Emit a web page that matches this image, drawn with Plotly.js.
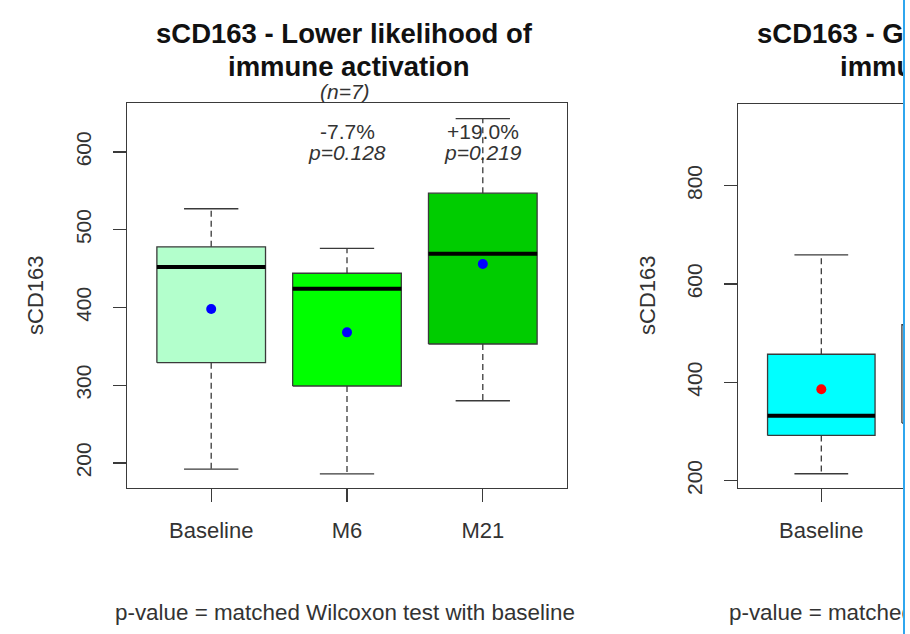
<!DOCTYPE html>
<html><head><meta charset="utf-8">
<script src="https://cdn.plot.ly/plotly-3.0.1.min.js"></script>
<style>
html,body{margin:0;padding:0;background:#fff;overflow:hidden}
#wrap{width:903px;height:634px;border-right:2px solid #2fa6ee;}
#chart{width:903px;height:634px}
</style></head>
<body><div id="wrap"><div id="chart"></div></div>
<script>
// ---- data ----
const categories   = ["Baseline", "M6", "M21"];
const leftLower    = [192, 186, 280];
const leftQ1       = [329, 299, 353];
const leftMedian   = [452, 424, 469];
const leftQ3       = [478, 444, 547];
const leftUpper    = [527, 476, 643];
const leftMean     = [398, 368, 456];
const leftFill     = ["#B3FFCC", "#00FF00", "#00CC00"];
const changeText   = ["", "-7.7%", "+19.0%"];
const pText        = ["", "p=0.128", "p=0.219"];

const rightCategories = ["Baseline", "M6"];
const rightLower   = [214, null];
const rightQ1      = [292, 317];
const rightMedian  = [332, null];
const rightQ3      = [457, 517];
const rightUpper   = [659, null];
const rightMean    = [386, null];
const rightFill    = ["#00FFFF", "#FFFFFF"];

const leftTicks  = [200, 300, 400, 500, 600];
const rightTicks = [200, 400, 600, 800];

// ---- layout helpers ----
const W = 903, H = 634;
const px = v => v / W;
const py = v => 1 - v / H;
const FONT = "Liberation Sans, Arial, sans-serif";
const LINE = "#3a3a3a";

function panelTraces(xa, ya, cats, lower, q1, med, q3, upper, mean, fill, meanColor) {
  const traces = [];
  const hw = 0.4, cw = 0.2;
  cats.forEach((c, i) => {
    const x = i + 1;
    traces.push({
      type: "scatter", mode: "lines", xaxis: xa, yaxis: ya,
      x: [x - hw, x + hw, x + hw, x - hw, x - hw],
      y: [q1[i], q1[i], q3[i], q3[i], q1[i]],
      fill: "toself", fillcolor: fill[i],
      line: {color: LINE, width: 1.3}, showlegend: false, hoverinfo: "skip"
    });
  });
  const wx = [], wy = [], cx = [], cy = [], mx = [], my = [];
  cats.forEach((c, i) => {
    const x = i + 1;
    if (upper[i] != null) { wx.push(x, x, null); wy.push(q3[i], upper[i], null);
                            cx.push(x - cw, x + cw, null); cy.push(upper[i], upper[i], null); }
    if (lower[i] != null) { wx.push(x, x, null); wy.push(q1[i], lower[i], null);
                            cx.push(x - cw, x + cw, null); cy.push(lower[i], lower[i], null); }
    if (med[i] != null)   { mx.push(x - hw, x + hw, null); my.push(med[i], med[i], null); }
  });
  traces.push({type: "scatter", mode: "lines", xaxis: xa, yaxis: ya, x: wx, y: wy,
    line: {color: LINE, width: 1.3, dash: "6px,4px"}, showlegend: false, hoverinfo: "skip"});
  traces.push({type: "scatter", mode: "lines", xaxis: xa, yaxis: ya, x: cx, y: cy,
    line: {color: LINE, width: 1.3}, showlegend: false, hoverinfo: "skip"});
  traces.push({type: "scatter", mode: "lines", xaxis: xa, yaxis: ya, x: mx, y: my,
    line: {color: "#000", width: 4}, showlegend: false, hoverinfo: "skip"});
  const ex = [], ey = [];
  cats.forEach((c, i) => { if (mean[i] != null) { ex.push(i + 1); ey.push(mean[i]); } });
  traces.push({type: "scatter", mode: "markers", xaxis: xa, yaxis: ya, x: ex, y: ey,
    marker: {color: meanColor, size: 10}, cliponaxis: true, showlegend: false, hoverinfo: "skip"});
  return traces;
}

const data = [].concat(
  panelTraces("x", "y", categories, leftLower, leftQ1, leftMedian, leftQ3, leftUpper, leftMean, leftFill, "#0000FF"),
  panelTraces("x2", "y2", rightCategories, rightLower, rightQ1, rightMedian, rightQ3, rightUpper, rightMean, rightFill, "#FF0000")
);

const xBase = {showgrid: false, zeroline: false, showline: true, mirror: true, linecolor: LINE, linewidth: 1.3,
  ticks: "outside", ticklen: 13, tickwidth: 1.3, tickcolor: LINE, ticklabelstandoff: 9,
  tickfont: {family: FONT, size: 22, color: "#333"}, fixedrange: true};
const yBase = {showgrid: false, zeroline: false, showline: true, linecolor: LINE, linewidth: 1.3,
  ticks: "outside", ticklen: 13, tickwidth: 1.3, tickcolor: LINE, tickangle: -90, ticklabelstandoff: 13,
  tickfont: {family: FONT, size: 21, color: "#333"}, fixedrange: true};

const ann = [];
function txt(text, x, y, size, extra) {
  ann.push(Object.assign({text: text, x: px(x), y: py(y), xref: "paper", yref: "paper",
    xanchor: "center", yanchor: "middle", showarrow: false,
    font: {family: FONT, size: size, color: "#333"}}, extra || {}));
}
const titleFont = {family: FONT, size: 27.5, color: "#111"};
txt("<b>sCD163 - Lower likelihood of</b>", 344, 33, 27.5, {font: titleFont});
txt("<b>immune activation</b>", 348, 66, 27.5, {font: titleFont});
txt("<b>sCD163 - Greater likelihood of</b>", 954, 33, 27.5, {font: titleFont});
txt("<b>immune activation</b>", 960, 66, 27.5, {font: titleFont});
txt("<i>(n=7)</i>", 345, 91, 21);
txt("sCD163", 35, 296, 22, {textangle: -90});
txt("sCD163", 647, 296, 22, {textangle: -90});
txt("p-value = matched Wilcoxon test with baseline", 345, 612, 22.4);
txt("p-value = matched Wilcoxon test with baseline", 959, 612, 22.4);
categories.forEach((c, i) => {
  if (changeText[i]) {
    ann.push({text: changeText[i], x: i + 1, y: py(131), xref: "x", yref: "paper", showarrow: false,
      xanchor: "center", yanchor: "middle", font: {family: FONT, size: 21, color: "#333"}});
    ann.push({text: "<i>" + pText[i] + "</i>", x: i + 1, y: py(152), xref: "x", yref: "paper", showarrow: false,
      xanchor: "center", yanchor: "middle", font: {family: FONT, size: 21, color: "#333"}});
  }
});

const layout = {
  width: W, height: H, margin: {l: 0, r: 0, t: 0, b: 0},
  paper_bgcolor: "#fff", plot_bgcolor: "#fff", showlegend: false, hovermode: false,
  xaxis: Object.assign({}, xBase, {domain: [px(127), px(567)], range: [0.38, 3.62],
    tickvals: [1, 2, 3], ticktext: categories, anchor: "y"}),
  yaxis: Object.assign({}, yBase, {domain: [py(488), py(103)], range: [167.8, 663],
    tickvals: leftTicks, mirror: true, anchor: "x"}),
  xaxis2: Object.assign({}, xBase, {domain: [px(738), 1], range: [0.38, 1.608],
    tickvals: [1, 2], ticktext: rightCategories, anchor: "y2"}),
  yaxis2: Object.assign({}, yBase, {domain: [py(488), py(104)], range: [185, 966],
    tickvals: rightTicks, mirror: false, anchor: "x2"}),
  annotations: ann
};

Plotly.newPlot("chart", data, layout, {staticPlot: true, displayModeBar: false});
</script>
</body></html>
